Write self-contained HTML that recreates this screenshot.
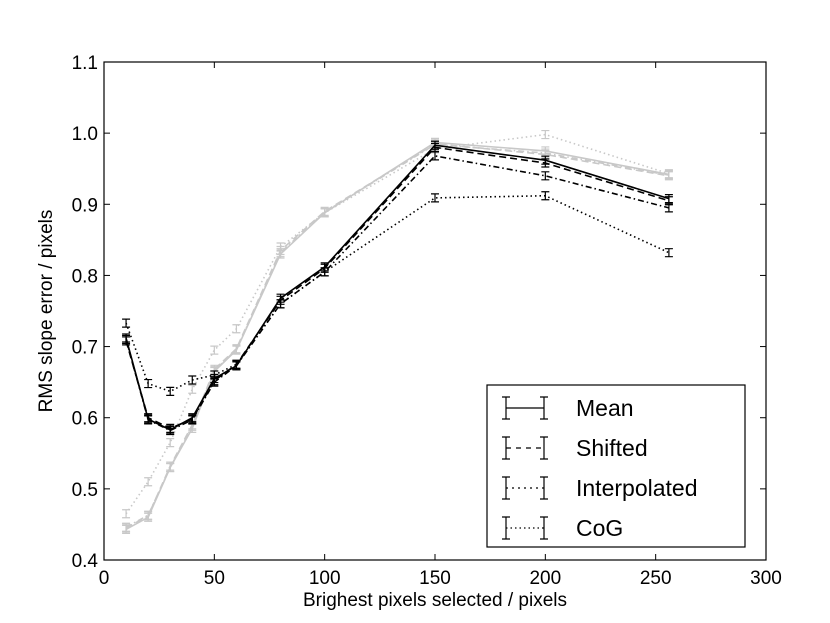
<!DOCTYPE html>
<html><head><meta charset="utf-8"><style>
body{margin:0;background:#fff}
svg{display:block;font-family:"Liberation Sans",sans-serif}
</style></head><body>
<svg id="chart" width="830" height="623" viewBox="0 0 830 623">
<g id="series"></g>
<rect x="104" y="62" width="662" height="498" fill="none" stroke="#000" stroke-width="1.2"/>
<g id="axes"></g>
<text x="435" y="606" font-size="19" text-anchor="middle">Brighest pixels selected / pixels</text>
<text transform="translate(52,311) rotate(-90)" font-size="19" text-anchor="middle">RMS slope error / pixels</text>
<g>
<rect x="487" y="385" width="258" height="162" fill="#fff" stroke="#000" stroke-width="1.2"/>
<g id="legend-items"></g>
</g>
</svg>
<script>
const xs=[10,20,30,40,50,60,80,100,150,200,256];
const meanBlack=[0.712,0.598,0.583,0.600,0.655,0.673,0.768,0.812,0.983,0.962,0.908];
const shiftedBlack=[0.708,0.600,0.585,0.598,0.652,0.675,0.765,0.810,0.980,0.958,0.905];
const interpBlack=[0.710,0.597,0.582,0.597,0.650,0.673,0.760,0.805,0.968,0.940,0.895];
const cogBlack=[0.733,0.648,0.637,0.653,0.660,0.675,0.760,0.805,0.909,0.912,0.832];
const meanGray=[0.443,0.460,0.530,0.585,0.665,0.695,0.830,0.888,0.987,0.975,0.942];
const shiftedGray=[0.445,0.462,0.532,0.590,0.668,0.697,0.835,0.890,0.985,0.970,0.940];
const interpGray=[0.446,0.463,0.530,0.588,0.666,0.696,0.832,0.889,0.984,0.972,0.941];
const cogGray=[0.465,0.510,0.565,0.640,0.695,0.725,0.840,0.888,0.978,0.998,0.943];
const xTicks=[0,50,100,150,200,250,300];
const yTicks=[0.4,0.5,0.6,0.7,0.8,0.9,1.0,1.1];
const legendLabels=["Mean","Shifted","Interpolated","CoG"];
const NS="http://www.w3.org/2000/svg";
const X=v=>104+v*(662/300);
const Y=v=>560-(v-0.4)*(498/0.7);
function el(t,a,p){const e=document.createElementNS(NS,t);for(const k in a)e.setAttribute(k,a[k]);p.appendChild(e);return e;}
const dashes={mean:"",shifted:"7,4",interp:"6,3,1.5,3",cog:"1.5,3"};
const sg=document.getElementById('series');
const defs=[[meanGray,"#c8c8c8",dashes.mean,'mean-gray'],[shiftedGray,"#c8c8c8",dashes.shifted,'shifted-gray'],[interpGray,"#c8c8c8",dashes.interp,'interp-gray'],[cogGray,"#c8c8c8",dashes.cog,'cog-gray'],
[cogBlack,"#000",dashes.cog,'cog-black'],[interpBlack,"#000",dashes.interp,'interp-black'],[shiftedBlack,"#000",dashes.shifted,'shifted-black'],[meanBlack,"#000",dashes.mean,'mean-black']];
defs.forEach(([d,c,da,n])=>{
  const g=el('g',{},sg);
  
  
  const p=el('polyline',{points:xs.map((x,i)=>X(x)+','+Y(d[i])).join(' '),fill:'none',stroke:c,'stroke-width':1.6,'stroke-dasharray':da},g);
  
  
  xs.forEach((x,i)=>{
    const cx=X(x),cy=Y(d[i]),e=4;
    const b=el('path',{d:`M${cx},${cy-e}V${cy+e}M${cx-4},${cy-e}H${cx+4}M${cx-4},${cy+e}H${cx+4}`,stroke:c,'stroke-width':1.2,fill:'none'},g);
    
    
  });
});
const ax=document.getElementById('axes');
xTicks.forEach(t=>{
  el('line',{x1:X(t),x2:X(t),y1:560,y2:554,stroke:'#000'},ax);
  el('line',{x1:X(t),x2:X(t),y1:62,y2:68,stroke:'#000'},ax);
  const tx=el('text',{x:X(t),y:584,'font-size':19,'text-anchor':'middle'},ax);tx.textContent=t;
  
  
});
yTicks.forEach(t=>{
  el('line',{x1:104,x2:110,y1:Y(t),y2:Y(t),stroke:'#000'},ax);
  el('line',{x1:766,x2:760,y1:Y(t),y2:Y(t),stroke:'#000'},ax);
  const tx=el('text',{x:98,y:Y(t)+7,'font-size':19,'text-anchor':'end'},ax);tx.textContent=t.toFixed(1);
  
  
});
const lg=document.getElementById('legend-items');
const ld=[dashes.mean,"5,5","2,4,2,4",dashes.cog];
legendLabels.forEach((l,i)=>{
  const y=408+i*40;
  const g=el('g',{},lg);
  
  
  el('line',{x1:506,x2:544,y1:y,y2:y,stroke:'#000','stroke-width':1.3,'stroke-dasharray':ld[i]},g);
  [506,544].forEach(x=>el('path',{d:`M${x},${y-11}V${y+11}M${x-4},${y-11}H${x+4}M${x-4},${y+11}H${x+4}`,stroke:'#000','stroke-width':1.2,fill:'none'},g));
  const t=el('text',{x:576,y:y+8,'font-size':23},g);t.textContent=l;
});
</script>
</body></html>
